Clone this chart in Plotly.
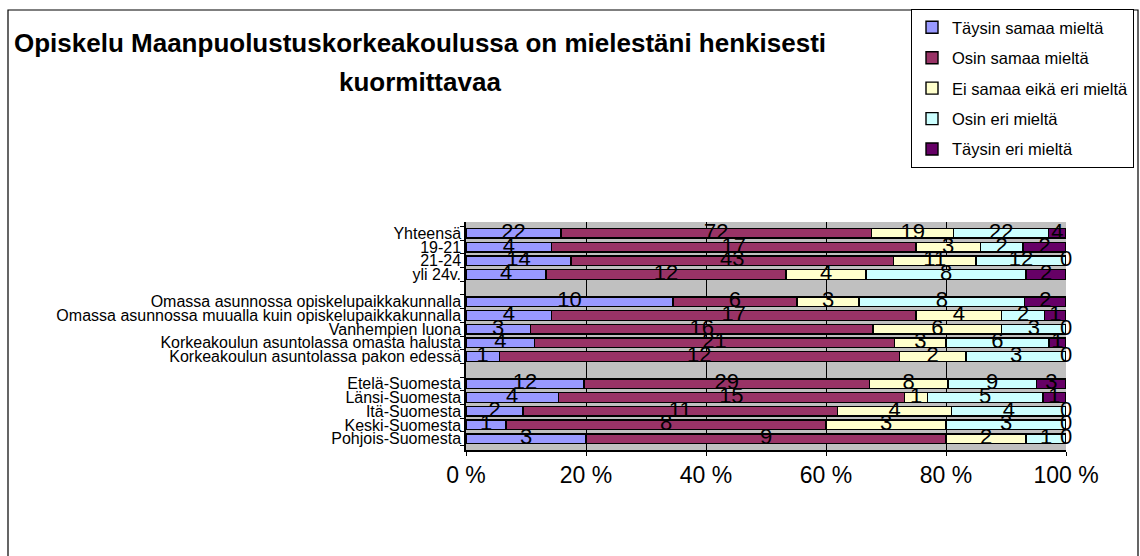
import plotly.graph_objects as go

# ---- data ----
categories = [
    "Yhteensä", "19-21", "21-24", "yli 24v.", " ",
    "Omassa asunnossa opiskelupaikkakunnalla",
    "Omassa asunnossa muualla kuin opiskelupaikkakunnalla",
    "Vanhempien luona",
    "Korkeakoulun asuntolassa omasta halusta",
    "Korkeakoulun asuntolassa pakon edessä", "  ",
    "Etelä-Suomesta", "Länsi-Suomesta", "Itä-Suomesta",
    "Keski-Suomesta", "Pohjois-Suomesta",
]
series_names = ["Täysin samaa mieltä", "Osin samaa mieltä",
                "Ei samaa eikä eri mieltä", "Osin eri mieltä", "Täysin eri mieltä"]
taysin_samaa = [22, 4, 14, 4, None, 10, 4, 3, 4, 1, None, 12, 4, 2, 1, 3]
osin_samaa   = [72, 17, 43, 12, None, 6, 17, 16, 21, 12, None, 29, 15, 11, 8, 9]
ei_samaa_eri = [19, 3, 11, 4, None, 3, 4, 6, 3, 2, None, 8, 1, 4, 3, 2]
osin_eri     = [22, 2, 12, 8, None, 8, 2, 3, 6, 3, None, 9, 5, 4, 3, 1]
taysin_eri   = [4, 2, 0, 2, None, 2, 1, 0, 1, 0, None, 3, 1, 0, 0, 0]
x_ticks = [0, 20, 40, 60, 80, 100]
title_line1 = "Opiskelu Maanpuolustuskorkeakoulussa on mielestäni henkisesti"
title_line2 = "kuormittavaa"

series = [taysin_samaa, osin_samaa, ei_samaa_eri, osin_eri, taysin_eri]
colors = ["#9999FF", "#993366", "#FFFFCC", "#CCFFFF", "#660066"]
FONT = "Arial, Liberation Sans"

# ---- layout geometry ----
W, H = 1140, 556
ML, MR, MT, MB = 466, 74, 222, 106
pw = W - ML - MR
ph = H - MT - MB

fig = go.Figure()

totals = []
for i in range(len(categories)):
    vals = [s[i] for s in series]
    totals.append(sum(vals) if vals[0] is not None else None)

for k, (name, vals, col) in enumerate(zip(series_names, series, colors)):
    pct = [None if v is None else 100.0 * v / totals[i] for i, v in enumerate(vals)]
    fig.add_trace(go.Bar(
        y=categories, x=pct, orientation="h", name=name,
        marker=dict(color=col, line=dict(color="black", width=1.4)),
        width=0.7, legendgroup=name, hoverinfo="skip",
    ))

# text labels at segment centres
for k, vals in enumerate(series):
    xs, ys, ts = [], [], []
    for i, v in enumerate(vals):
        if v is None:
            continue
        before = sum(series[j][i] for j in range(k))
        xs.append(100.0 * (before + v / 2.0) / totals[i])
        ys.append(categories[i])
        ts.append(str(v))
    fig.add_trace(go.Scatter(
        x=xs, y=ys, text=ts, mode="text", showlegend=False,
        textfont=dict(family=FONT, size=22, color="black"),
        textposition="middle center", cliponaxis=False, hoverinfo="skip",
    ))


def px_x(px):
    return (px - ML) / pw


def px_y(py):
    return (H - MB - py) / ph


# outer frame
fig.add_shape(type="rect", xref="paper", yref="paper",
              x0=px_x(8), x1=px_x(1138), y0=px_y(600), y1=px_y(10),
              line=dict(color="black", width=1.2), fillcolor="rgba(0,0,0,0)",
              layer="below")

fig.add_annotation(text="<b>" + title_line1 + "</b>", xref="paper", yref="paper",
                   x=px_x(420), y=px_y(43), showarrow=False,
                   xanchor="center", yanchor="middle",
                   font=dict(family=FONT, size=26, color="black"))
fig.add_annotation(text="<b>" + title_line2 + "</b>", xref="paper", yref="paper",
                   x=px_x(420), y=px_y(82), showarrow=False,
                   xanchor="center", yanchor="middle",
                   font=dict(family=FONT, size=26, color="black"))

fig.update_layout(
    width=W, height=H,
    margin=dict(l=ML, r=MR, t=MT, b=MB, autoexpand=False),
    barmode="stack", bargap=0.3,
    plot_bgcolor="#C0C0C0", paper_bgcolor="white",
    font=dict(family=FONT, color="black"),
    showlegend=True,
    legend=dict(
        x=px_x(911), y=px_y(9), xanchor="left", yanchor="top",
        bgcolor="white", bordercolor="black", borderwidth=1,
        font=dict(family=FONT, size=16.5, color="black"),
        traceorder="grouped", tracegroupgap=6,
        itemwidth=30,
    ),
    xaxis=dict(
        range=[0, 100], tickvals=x_ticks, ticktext=[f"{t} %" for t in x_ticks],
        showgrid=True, gridcolor="black", gridwidth=1,
        showline=True, linecolor="black", linewidth=1.5,
        ticks="outside", ticklen=4, tickcolor="black",
        tickfont=dict(size=23), zeroline=False, fixedrange=True,
    ),
    yaxis=dict(
        categoryorder="array", categoryarray=categories,
        autorange="reversed", type="category",
        tickmode="array", tickvals=categories, ticktext=categories,
        showline=True, linecolor="black", linewidth=1.5,
        ticks="outside", ticklen=4, tickcolor="black",
        tickson="boundaries", tickfont=dict(size=16),
        showgrid=False, fixedrange=True,
    ),
)

fig.write_html("out.html", config={"displayModeBar": False},
               post_script="document.body.style.margin='0';")
